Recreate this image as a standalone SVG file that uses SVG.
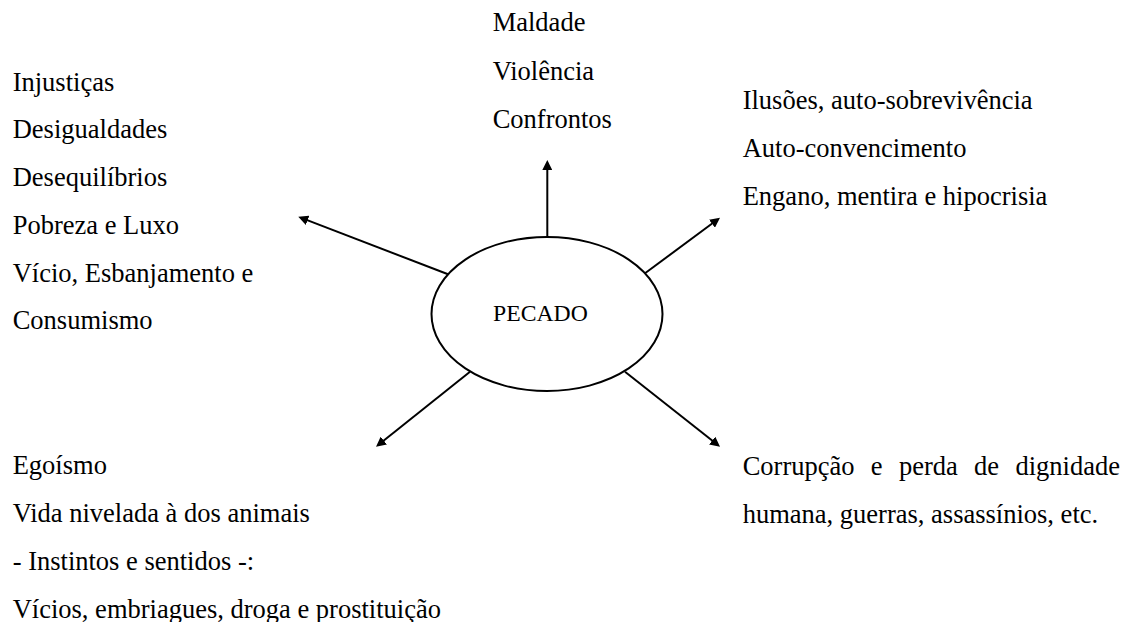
<svg xmlns="http://www.w3.org/2000/svg" width="1138" height="622" viewBox="0 0 1138 622">
<style>
text { font-family: "Liberation Serif", "Times New Roman", serif; font-size: 26.5px; fill: #000; }
.conn line { stroke: #000; stroke-width: 2; fill: none; }
</style>
<defs>
<marker id="arr" viewBox="0 0 10 10" refX="4" refY="5" markerWidth="10" markerHeight="10" markerUnits="userSpaceOnUse" orient="auto">
<path d="M0,0 L10,5 L0,10 z" fill="#000"/>
</marker>
</defs>
<rect width="1138" height="622" fill="#fff"/>
<g id="connectors" class="conn">
<line x1="547.3" y1="237" x2="547.3" y2="166" marker-end="url(#arr)"/>
<line x1="450" y1="275" x2="303.9" y2="218.9" marker-end="url(#arr)"/>
<line x1="644" y1="274" x2="715.2" y2="221.3" marker-end="url(#arr)"/>
<line x1="470" y1="371.7" x2="380.7" y2="443" marker-end="url(#arr)"/>
<line x1="625" y1="371.7" x2="715.3" y2="443" marker-end="url(#arr)"/>
</g>
<g id="pecado">
<ellipse cx="547" cy="314" rx="115.5" ry="77" fill="#fff" stroke="#000" stroke-width="2"/>
<text x="493" y="320.5" style="font-size:23.7px">PECADO</text>
</g>
<g id="top">
<text x="492.7" y="30.8">Maldade</text>
<text x="492.7" y="79.5">Violência</text>
<text x="492.7" y="128">Confrontos</text>
</g>
<g id="left">
<text x="12.7" y="90.7">Injustiças</text>
<text x="12.7" y="138.4">Desigualdades</text>
<text x="12.7" y="186.1">Desequilíbrios</text>
<text x="12.7" y="233.8">Pobreza e Luxo</text>
<text x="12.7" y="281.5">Vício, Esbanjamento e</text>
<text x="12.7" y="329.2">Consumismo</text>
</g>
<g id="right">
<text x="742.7" y="109.3">Ilusões, auto-sobrevivência</text>
<text x="742.7" y="157">Auto-convencimento</text>
<text x="742.7" y="204.7">Engano, mentira e hipocrisia</text>
</g>
<g id="bottom-left">
<text x="12.7" y="473.5">Egoísmo</text>
<text x="12.7" y="521.5">Vida nivelada à dos animais</text>
<text x="12.7" y="569.5">- Instintos e sentidos -:</text>
<text x="12.7" y="617.5">Vícios, embriagues, droga e prostituição</text>
</g>
<g id="bottom-right">
<text x="742.7" y="475" word-spacing="9.7">Corrupção e perda de dignidade</text>
<text x="742.7" y="523.3">humana, guerras, assassínios, etc.</text>
</g>
</svg>
